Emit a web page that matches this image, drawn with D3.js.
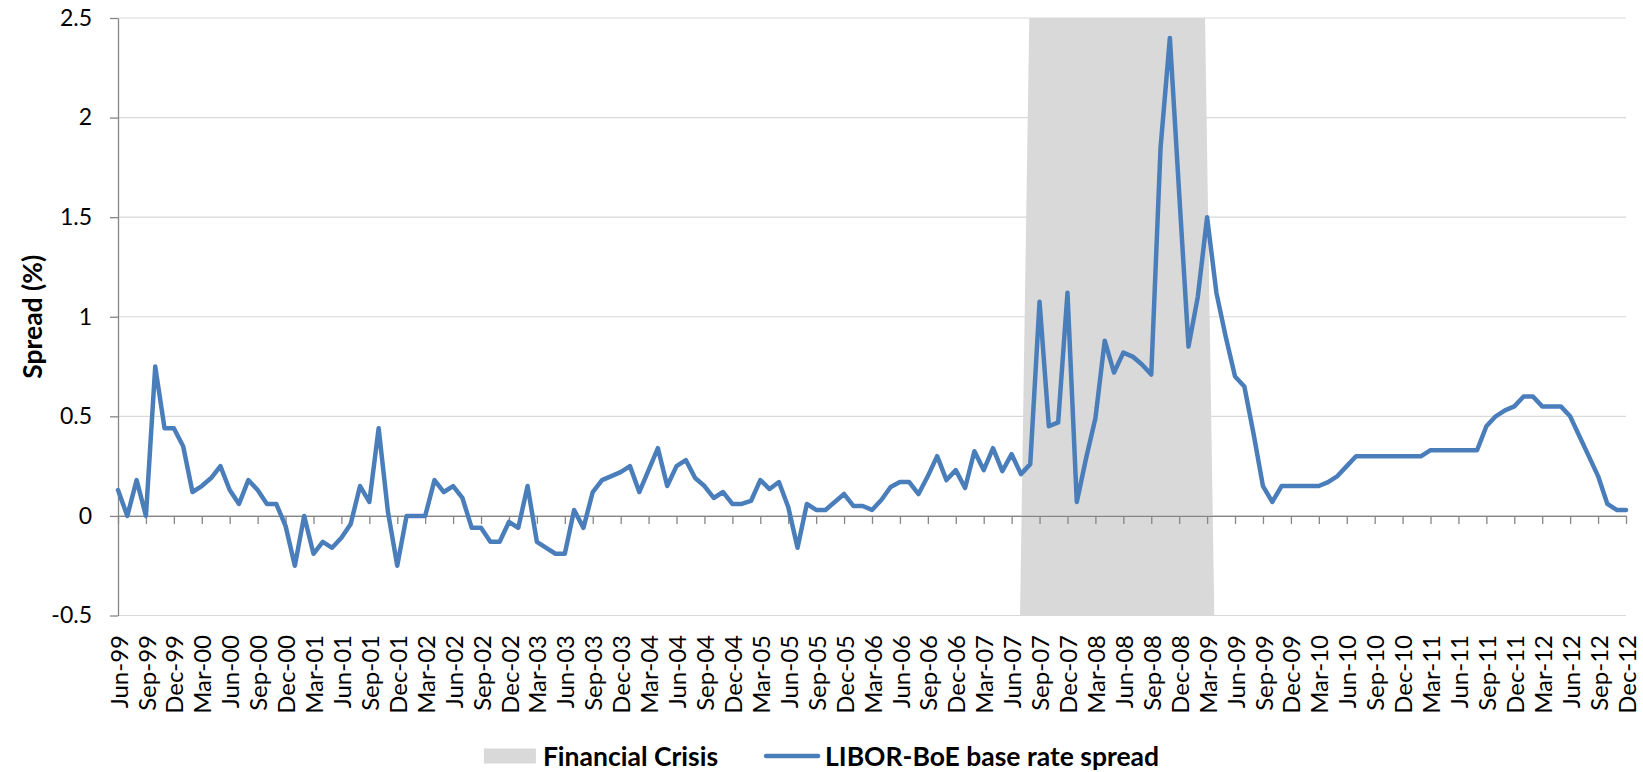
<!DOCTYPE html>
<html>
<head>
<meta charset="utf-8">
<script src="https://cdn.jsdelivr.net/npm/d3@7"></script>
<style>
  body { margin: 0; background: #fff; }
  svg { display: block; font-family: Lato, "Open Sans", sans-serif; }
</style>
</head>
<body>
<svg id="chart"></svg>
<script>
// months Jun-99 .. Dec-12 (category axis)
const months = d3.timeMonth.range(new Date(1999, 5, 1), new Date(2013, 0, 1));
const fmt = d3.timeFormat("%b-%y");
const monthLabels = months.map(fmt);

// LIBOR - BoE base rate spread (%), one row per year
const spread = [
  0.13, 0, 0.18, 0, 0.75, 0.44, 0.44,                                  // 1999 Jun-Dec
  0.35, 0.12, 0.15, 0.19, 0.25, 0.13, 0.06, 0.18, 0.13, 0.06, 0.06, -0.05, // 2000
  -0.25, 0, -0.19, -0.13, -0.16, -0.11, -0.04, 0.15, 0.07, 0.44, 0.02, -0.25, // 2001
  0, 0, 0, 0.18, 0.12, 0.15, 0.09, -0.06, -0.06, -0.13, -0.13, -0.03,   // 2002
  -0.06, 0.15, -0.13, -0.16, -0.19, -0.19, 0.03, -0.06, 0.12, 0.18, 0.20, 0.22, // 2003
  0.25, 0.12, 0.23, 0.34, 0.15, 0.25, 0.28, 0.19, 0.15, 0.09, 0.12, 0.06, // 2004
  0.06, 0.075, 0.18, 0.135, 0.17, 0.045, -0.16, 0.06, 0.03, 0.03, 0.07, 0.11, // 2005
  0.05, 0.05, 0.03, 0.08, 0.145, 0.17, 0.17, 0.11, 0.20, 0.30, 0.18, 0.23, // 2006
  0.14, 0.325, 0.23, 0.34, 0.225, 0.31, 0.21, 0.26, 1.075, 0.45, 0.47, 1.12, // 2007
  0.07, 0.29, 0.49, 0.88, 0.72, 0.82, 0.80, 0.76, 0.71, 1.85, 2.40, 1.62, // 2008
  0.85, 1.10, 1.50, 1.12, 0.90, 0.70, 0.65, 0.41, 0.15, 0.07, 0.15, 0.15, // 2009
  0.15, 0.15, 0.15, 0.17, 0.20, 0.25, 0.30, 0.30, 0.30, 0.30, 0.30, 0.30, // 2010
  0.30, 0.30, 0.33, 0.33, 0.33, 0.33, 0.33, 0.33, 0.45, 0.50, 0.53, 0.55, // 2011
  0.60, 0.60, 0.55, 0.55, 0.55, 0.50, 0.40, 0.30, 0.20, 0.06, 0.03, 0.03  // 2012
];

// shaded financial crisis period (first and last month at full height)
const crisisFrom = "Aug-07";
const crisisTo = "Mar-09";

const yTicks = [-0.5, 0, 0.5, 1, 1.5, 2, 2.5];
const xTickLabels = monthLabels.filter((d, i) => i % 3 === 0);

const legendLabels = ["Financial Crisis", "LIBOR-BoE base rate spread"];

const w = 1643;
const h = 772;
const mLeft = 118, mRight = 1626, mTop = 18, mBottom = 615.5;

const lineColor = "#4a7ebb";
const crisisColor = "#d9d9d9";
const axisColor = "#868686";

const svg = d3.select("#chart").attr("width", w).attr("height", h);

const x = d3.scalePoint().domain(monthLabels).range([mLeft, mRight]);
// the shaded area sits between tick marks (secondary category axis in the original)
const xBand = d3.scaleBand().domain(monthLabels).range([mLeft, mRight]);
const y = d3.scaleLinear().domain([-0.5, 2.5]).range([mBottom, mTop]);

// gridlines
svg.append("g")
  .selectAll("line")
  .data(yTicks)
  .join("line")
  .attr("x1", mLeft).attr("x2", mRight)
  .attr("y1", d => y(d)).attr("y2", d => y(d))
  .attr("stroke", "#d9d9d9").attr("stroke-width", 1.2);

// crisis area
const iFrom = monthLabels.indexOf(crisisFrom);
const iTo = monthLabels.indexOf(crisisTo);
const crisis = monthLabels.map((m, i) => (i >= iFrom && i <= iTo) ? 2.5 : -0.5);
const area = d3.area()
  .x((d, i) => xBand(monthLabels[i]) + xBand.bandwidth() / 2)
  .y0(y(-0.5))
  .y1(d => y(d));
svg.append("path")
  .datum(crisis)
  .attr("d", area)
  .attr("fill", crisisColor);

// category axis crossing at zero
const xAxis = svg.append("g")
  .attr("transform", `translate(0,${y(0)})`)
  .call(d3.axisBottom(x).tickValues(xTickLabels).tickSize(8).tickSizeOuter(0).tickFormat(""));
xAxis.select(".domain").attr("stroke", axisColor).attr("stroke-width", 1.3);
xAxis.selectAll(".tick line").attr("stroke", axisColor).attr("stroke-width", 1.3);

// value axis
const yAxis = svg.append("g")
  .attr("transform", `translate(${mLeft},0)`)
  .call(d3.axisLeft(y).tickValues(yTicks).tickSize(8).tickSizeOuter(0).tickPadding(18).tickFormat(d => String(d)));
yAxis.select(".domain").attr("stroke", axisColor).attr("stroke-width", 1.3);
yAxis.selectAll(".tick line").attr("stroke", axisColor).attr("stroke-width", 1.3);
yAxis.selectAll(".tick text")
  .attr("fill", "#000")
  .style("font-family", "Lato, 'Open Sans', sans-serif")
  .style("font-size", "23px");

// month labels at the bottom, rotated
svg.append("g")
  .selectAll("text")
  .data(xTickLabels)
  .join("text")
  .attr("transform", d => `translate(${x(d)},635) rotate(-90)`)
  .attr("text-anchor", "end")
  .attr("dy", "0.4em")
  .style("font-size", "24px")
  .text(d => d);

// spread line
const line = d3.line()
  .x((d, i) => x(monthLabels[i]))
  .y(d => y(d));
svg.append("path")
  .datum(spread)
  .attr("d", line)
  .attr("fill", "none")
  .attr("stroke", lineColor)
  .attr("stroke-width", 4.5)
  .attr("stroke-linejoin", "round")
  .attr("stroke-linecap", "round");

// axis title
svg.append("text")
  .attr("transform", `translate(32,${(mTop + mBottom) / 2}) rotate(-90)`)
  .attr("text-anchor", "middle")
  .attr("dominant-baseline", "central")
  .style("font-size", "26.5px")
  .style("font-weight", "bold")
  .text("Spread (%)");

// legend, centred under the chart
const legY = 756;
const leg = svg.append("g");
const swatchW = 52, gap = 7, itemGap = 48;
const t1 = leg.append("text").attr("x", 0).attr("y", legY).attr("dominant-baseline", "central")
  .style("font-size", "26.5px").style("font-weight", "bold").text(legendLabels[0]);
const t2 = leg.append("text").attr("y", legY).attr("dominant-baseline", "central")
  .style("font-size", "26.5px").style("font-weight", "bold").text(legendLabels[1]);
const w1 = t1.node().getComputedTextLength();
const w2 = t2.node().getComputedTextLength();
const total = swatchW + gap + w1 + itemGap + swatchW + gap + w2;
let cx = w / 2 - total / 2;
leg.append("rect").attr("x", cx).attr("y", legY - 7.5).attr("width", swatchW).attr("height", 15).attr("fill", crisisColor);
t1.attr("x", cx + swatchW + gap);
cx += swatchW + gap + w1 + itemGap;
leg.append("line").attr("x1", cx).attr("x2", cx + swatchW).attr("y1", legY).attr("y2", legY)
  .attr("stroke", lineColor).attr("stroke-width", 4.5).attr("stroke-linecap", "round");
t2.attr("x", cx + swatchW + gap);
</script>
</body>
</html>
